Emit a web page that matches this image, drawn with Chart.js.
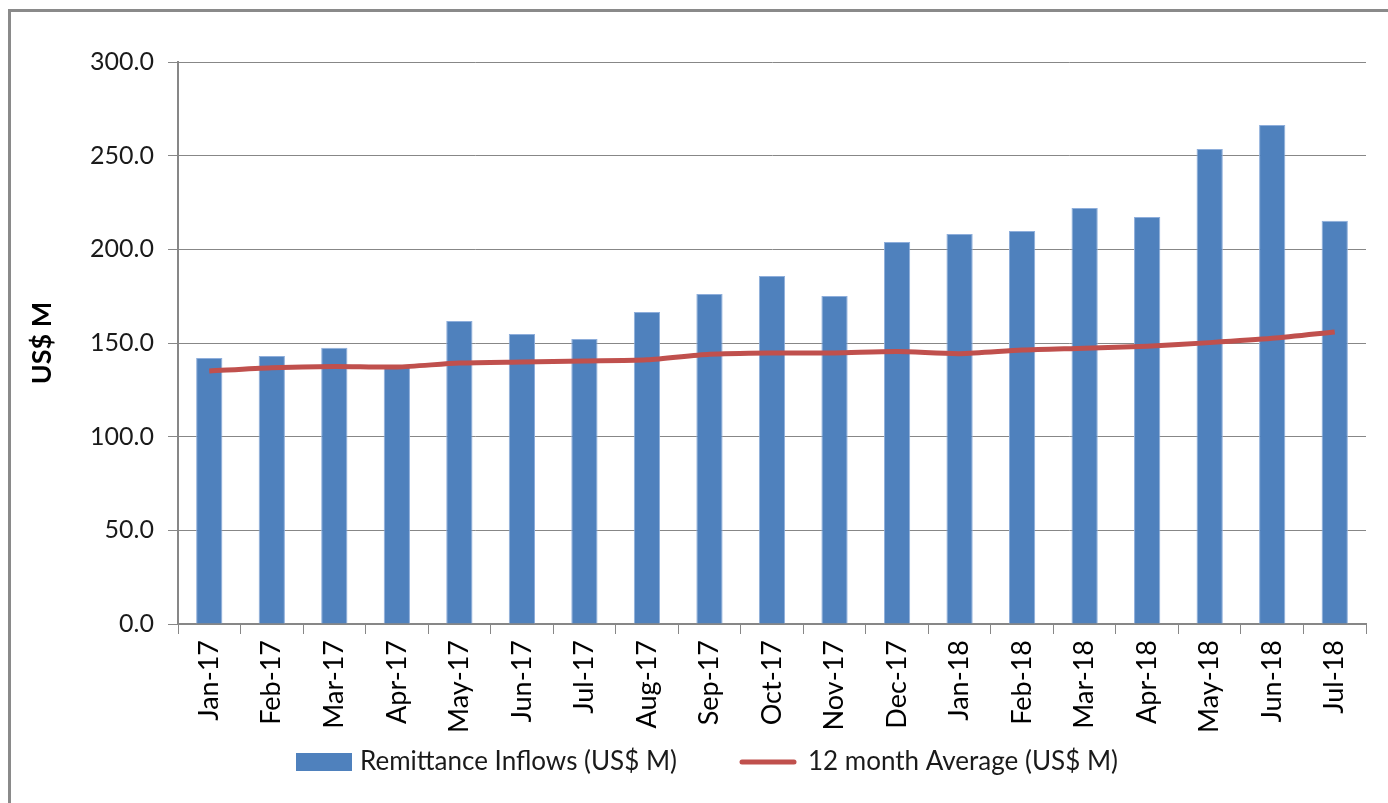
<!DOCTYPE html>
<html>
<head>
<meta charset="utf-8">
<script src="https://cdn.jsdelivr.net/npm/chart.js@4"></script>
<style>
  html, body { margin: 0; padding: 0; background: #fff; }
  #wrap { position: relative; width: 1388px; height: 803px; overflow: hidden; }
  #frame { position: absolute; left: 8px; top: 9px; width: 1400px; height: 820px;
           border-left: 3px solid #8a8a8a; border-top: 3px solid #8a8a8a; }
  canvas { position: absolute; left: 0; top: 0; }
</style>
</head>
<body>
<div id="wrap">
  <div id="frame"></div>
  <canvas id="remitChart" width="1388" height="803"></canvas>
</div>
<script>
// Months shown on the x axis
const months = ["Jan-17", "Feb-17", "Mar-17", "Apr-17", "May-17", "Jun-17", "Jul-17", "Aug-17",
  "Sep-17", "Oct-17", "Nov-17", "Dec-17", "Jan-18", "Feb-18", "Mar-18", "Apr-18",
  "May-18", "Jun-18", "Jul-18"];

// Remittance inflows (US$ M)
const inflows = [142.0, 143.1, 147.4, 137.7, 161.8, 154.8, 152.2, 166.6, 176.2, 185.8,
  175.1, 203.9, 208.2, 209.8, 222.1, 217.3, 253.6, 266.4, 215.2];

// 12 month average (US$ M)
const avg12 = [135.0, 136.8, 137.5, 137.2, 139.3, 139.9, 140.4, 141.0, 144.0, 144.7,
  144.7, 145.4, 144.3, 146.2, 147.2, 148.3, 150.2, 152.5, 155.9];

const yTicks = [0, 50, 100, 150, 200, 250, 300];

const FONT = "Lato, 'Open Sans', sans-serif";
const GRID = "#878787";

// simple legend drawn under the axis
const bottomLegend = {
  id: "bottomLegend",
  afterDraw(chart) {
    const c = chart.ctx;
    const bars = chart.data.datasets[0];
    const line = chart.data.datasets[1];
    const y = 762;
    c.save();
    c.font = "26px " + FONT;
    c.textBaseline = "middle";
    // bars entry
    c.fillStyle = bars.backgroundColor;
    c.fillRect(296, 753, 56, 18);
    c.fillStyle = "#1a1a1a";
    c.fillText(bars.label, 360, y);
    // line entry
    c.strokeStyle = line.borderColor;
    c.lineWidth = 5;
    c.lineCap = "round";
    c.beginPath();
    c.moveTo(742, y);
    c.lineTo(794, y);
    c.stroke();
    c.fillText(line.label, 808, y);
    c.restore();
  }
};

const ctx = document.getElementById("remitChart").getContext("2d");
new Chart(ctx, {
  type: "bar",
  data: {
    labels: months,
    datasets: [
      {
        label: "Remittance Inflows (US$ M)",
        data: inflows,
        backgroundColor: "#4F81BD",
        borderColor: "#8eaedb",
        borderWidth: 1,
        categoryPercentage: 1,
        barPercentage: 0.42,
        order: 1
      },
      {
        type: "line",
        label: "12 month Average (US$ M)",
        data: avg12,
        borderColor: "#C0504D",
        backgroundColor: "#C0504D",
        borderWidth: 5,
        pointRadius: 0,
        tension: 0.25,
        order: 0
      }
    ]
  },
  options: {
    responsive: false,
    animation: false,
    layout: { padding: { left: 0, top: 62, right: 22, bottom: 0 } },
    plugins: {
      legend: { display: false },
      tooltip: { enabled: false }
    },
    scales: {
      x: {
        offset: true,
        grid: { offset: true, drawOnChartArea: false, drawTicks: true, tickLength: 10, color: GRID },
        border: { color: GRID, width: 2 },
        ticks: {
          minRotation: 90, maxRotation: 90, padding: 6,
          color: "#000", font: { family: FONT, size: 27 }
        },
        afterFit(scale) { scale.height = 179; }
      },
      y: {
        min: 0, max: 300,
        afterBuildTicks(scale) { scale.ticks = yTicks.map(v => ({ value: v })); },
        grid: { color: GRID, tickLength: 10 },
        border: { color: GRID, width: 2 },
        ticks: {
          padding: 14, color: "#1a1a1a",
          font: { family: FONT, size: 25 },
          callback: v => v.toFixed(1)
        },
        title: {
          display: true, text: "US$ M", color: "#000",
          font: { family: FONT, size: 27, weight: "bold" },
          padding: { top: 26, bottom: 0 }
        },
        afterFit(scale) { scale.width = 178; }
      }
    }
  },
  plugins: [bottomLegend]
});
</script>
</body>
</html>
